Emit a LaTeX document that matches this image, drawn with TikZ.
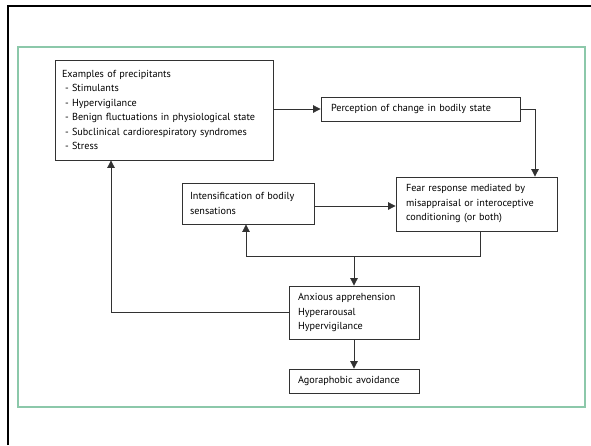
\documentclass[tikz,border=0pt]{standalone}
\usepackage{fontspec}
\setmainfont{PT Sans}
\usetikzlibrary{arrows.meta,calc}
\definecolor{framegreen}{RGB}{140,200,170}
\definecolor{boxline}{RGB}{50,50,50}
\begin{document}
\begin{tikzpicture}[x=1pt,y=-1pt,
  box/.style={draw=boxline,line width=0.85pt,inner sep=0pt,font=\fontsize{10.2}{14.5}\selectfont,align=left},
  arr/.style={draw=boxline,line width=0.85pt,-{Triangle[length=7.5pt,width=7.5pt]}},
  ln/.style={draw=boxline,line width=0.85pt}]
\useasboundingbox (0,0) rectangle (591,445);
\fill[white] (0,0) rectangle (591,445);
% outer black frame (top and left visible)
\draw[black,line width=2.6pt] (8,445) -- (8,6) -- (591,6);
% green frame
\draw[framegreen,line width=1.2pt] (18,47) rectangle (585,407);

\node[box,minimum width=218pt,minimum height=100pt,text width=204pt] (prec) at (164,110)
  {Examples of precipitants\\
  \hspace*{3pt}- Stimulants\\
  \hspace*{3pt}- Hypervigilance\\
  \hspace*{3pt}- Benign fluctuations in physiological state\\
  \hspace*{3pt}- Subclinical cardiorespiratory syndromes\\
  \hspace*{3pt}- Stress};
\node[box,minimum width=199pt,minimum height=24pt,text width=179pt] (perc) at (420.5,109)
  {Perception of change in bodily state};
\node[box,minimum width=161pt,minimum height=54pt,text width=141pt] (fear) at (476.5,204)
  {Fear response mediated by\\misappraisal or interoceptive\\conditioning (or both)};
\node[box,minimum width=132pt,minimum height=41pt,text width=116pt] (int) at (248,203.5)
  {Intensification of bodily\\sensations};
\node[box,minimum width=130pt,minimum height=53pt,text width=112pt] (anx) at (354,312.5)
  {Anxious apprehension\\Hyperarousal\\Hypervigilance};
\node[box,minimum width=130pt,minimum height=24pt,text width=112pt] (ago) at (354,381)
  {Agoraphobic avoidance};

\coordinate (xr) at (535,0);
\coordinate (xf) at (480,0);
\coordinate (xi) at (246,0);
\coordinate (xl) at (111,0);
\coordinate (jn) at (354,256);

\draw[arr] (prec.east |- perc.west) -- (perc.west);
\draw[arr] (perc.east) -| (xr |- fear.north);
\draw[arr] (int.east |- 0,206) -- (fear.west |- 0,206);
\draw[ln] (xf |- fear.south) |- (jn);
\draw[arr] (jn) -| (xi |- int.south);
\draw[arr] (jn) -- (anx.north);
\draw[arr] (anx.west) -| (xl |- prec.south);
\draw[arr] (anx.south) -- (ago.north);
\end{tikzpicture}
\end{document}
